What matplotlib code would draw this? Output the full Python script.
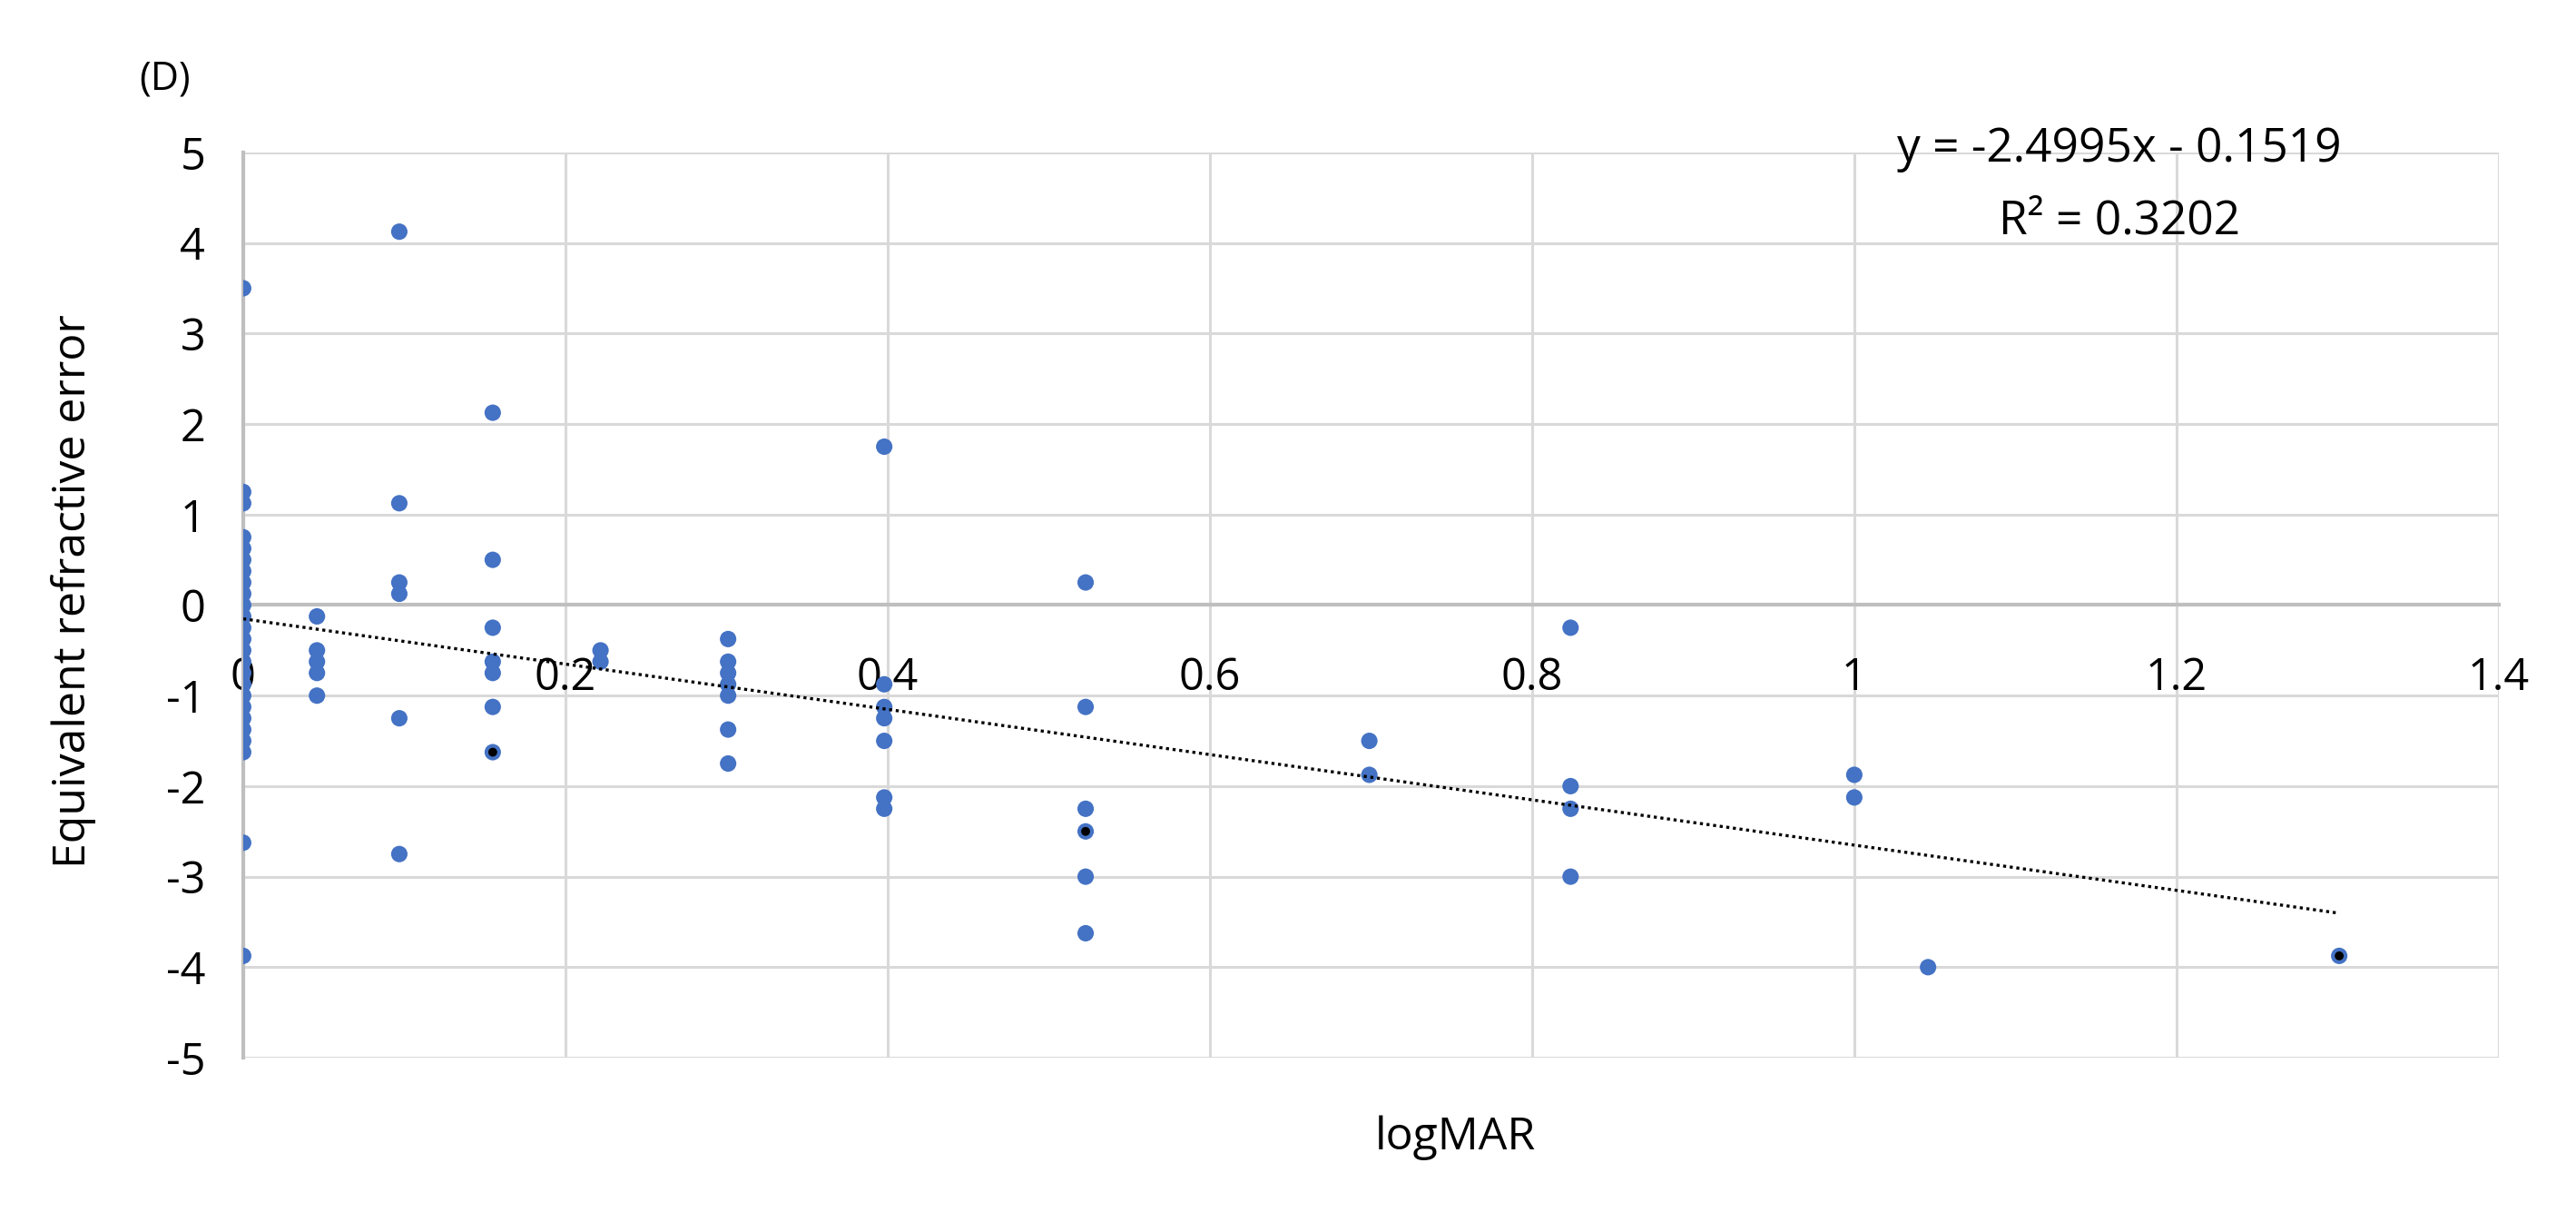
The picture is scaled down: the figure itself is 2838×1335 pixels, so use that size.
import numpy as np
import matplotlib
matplotlib.use("Agg")
import matplotlib.pyplot as plt

# logMAR vs equivalent refractive error
logmar = (
    [0.0] * 24
    + [0.0458] * 5
    + [0.0969] * 6
    + [0.1549] * 7
    + [0.2218] * 2
    + [0.301] * 7
    + [0.3979] * 7
    + [0.5229] * 6
    + [0.699] * 2
    + [0.8239] * 4
    + [1.0] * 2
    + [1.0458]
    + [1.301]
)
ref_error = (
    [3.5, 1.25, 1.125, 0.75, 0.625, 0.5, 0.375, 0.25, 0.125, 0.0, -0.125, -0.25,
     -0.375, -0.5, -0.625, -0.75, -0.875, -1.0, -1.125, -1.25, -1.375, -1.5,
     -1.625, -2.625]
    + [-0.125, -0.5, -0.625, -0.75, -1.0]
    + [4.125, 1.125, 0.25, 0.125, -1.25, -2.75]
    + [2.125, 0.5, -0.25, -0.625, -0.75, -1.125, -1.625]
    + [-0.5, -0.625]
    + [-0.375, -0.625, -0.75, -0.875, -1.0, -1.375, -1.75]
    + [1.75, -0.875, -1.125, -1.25, -1.5, -2.125, -2.25]
    + [0.25, -1.125, -2.25, -2.5, -3.0, -3.625]
    + [-1.5, -1.875]
    + [-0.25, -2.0, -2.25, -3.0]
    + [-1.875, -2.125]
    + [-4.0]
    + [-3.875]
)
# extra point at x=0 near the bottom
logmar = logmar + [0.0]
ref_error = ref_error + [-3.875]

# points drawn with a dark centre
dark_x = [0.1549, 0.5229, 1.301]
dark_y = [-1.625, -2.5, -3.875]

slope = -2.4995
intercept = -0.1519
r_squared = 0.3202

x_ticks = [0, 0.2, 0.4, 0.6, 0.8, 1, 1.2, 1.4]
x_tick_labels = ["0", "0.2", "0.4", "0.6", "0.8", "1", "1.2", "1.4"]
y_ticks = [5, 4, 3, 2, 1, 0, -1, -2, -3, -4, -5]

plt.rcParams['font.family'] = ['Open Sans', 'DejaVu Sans']

fig = plt.figure(figsize=(28.38, 13.35), dpi=100)
ax = fig.add_axes([0.0944, 0.1273, 0.8756, 0.7469])

ax.set_xlim(0, 1.4)
ax.set_ylim(-5, 5)
ax.set_xticks(x_ticks)
ax.set_xticklabels(x_tick_labels)
ax.set_yticks(y_ticks)
ax.set_yticklabels([str(v) for v in y_ticks])

ax.grid(True, color='#D9D9D9', linewidth=2.2, zorder=0)
ax.set_axisbelow(True)
for side in ['top', 'right']:
    ax.spines[side].set_visible(False)
ax.spines['bottom'].set_position(('data', 0))
ax.spines['bottom'].set_color('#BFBFBF')
ax.spines['bottom'].set_linewidth(3)
ax.spines['left'].set_color('#BFBFBF')
ax.spines['left'].set_linewidth(3)
ax.tick_params(axis='both', length=0, labelsize=35)
ax.tick_params(axis='x', pad=40)
ax.tick_params(axis='y', pad=30)

ax.scatter(logmar, ref_error, s=170, color='#4472C4', edgecolors='none', zorder=3)
ax.scatter(dark_x, dark_y, s=50, color='black', edgecolors='none', zorder=4)

# trend line
xt = np.array([min(logmar), max(logmar)])
ax.plot(xt, slope * xt + intercept, color='black', linestyle=(0, (1, 1.2)),
        linewidth=2.4, zorder=5)

fig.text(0.8228, 0.877, "y = -2.4995x - 0.1519", ha='center', va='center',
         fontsize=37)
fig.text(0.8228, 0.817, "R² = %.4f" % r_squared, ha='center', va='center',
         fontsize=37)

fig.text(0.0638, 0.935, "(D)", ha='center', va='center', fontsize=31)
fig.text(0.565, 0.0614, "logMAR", ha='center', va='center', fontsize=36)
fig.text(0.0285, 0.512, "Equivalent refractive error", ha='center', va='center',
         rotation=90, fontsize=36)

fig.savefig("out.png", dpi=100)
